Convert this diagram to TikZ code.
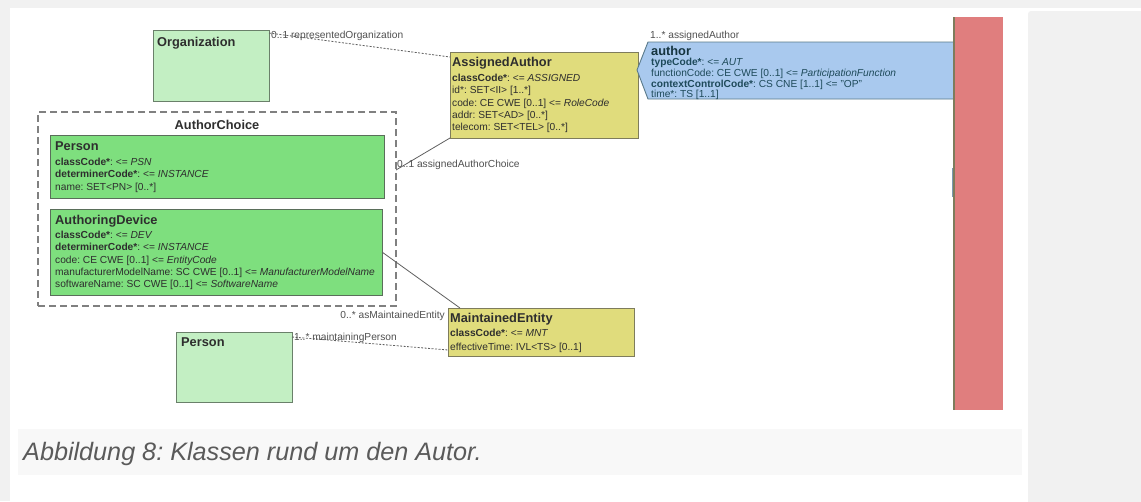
\documentclass[tikz,border=0pt]{standalone}
\usepackage{fontspec}
\setmainfont{Liberation Sans}
\frenchspacing
\definecolor{pagegray}{HTML}{F1F1F1}
\definecolor{capbg}{HTML}{F8F8F8}
\definecolor{yfill}{HTML}{E0DC7C}
\definecolor{yline}{HTML}{7E7C5C}
\definecolor{gfill}{HTML}{7EDF7E}
\definecolor{gline}{HTML}{5A6E5A}
\definecolor{lgfill}{HTML}{C3EFC3}
\definecolor{lgline}{HTML}{6A806A}
\definecolor{bfill}{HTML}{A9C9EE}
\definecolor{bline}{HTML}{5A7A8A}
\definecolor{rfill}{HTML}{E07E7E}
\definecolor{txt}{HTML}{2E2E2E}
\definecolor{btxt}{HTML}{1E4A5A}
\definecolor{lbltxt}{HTML}{505050}
\definecolor{captxt}{HTML}{5A5A5A}
\definecolor{conn}{HTML}{606060}
\begin{document}
\begin{tikzpicture}[x=1pt,y=-1pt,
  box/.style={draw, line width=0.9pt, anchor=north west, inner sep=0pt, outer sep=0pt},
  ybox/.style={box, fill=yfill, draw=yline},
  gbox/.style={box, fill=gfill, draw=gline},
  lgbox/.style={box, fill=lgfill, draw=lgline},
  ttl/.style={anchor=base west, inner sep=0pt, font=\fontsize{12.8}{14}\selectfont\bfseries, text=txt},
  attr/.style={anchor=base west, inner sep=0pt, font=\fontsize{10.2}{12}\selectfont, text=txt},
  battr/.style={attr, text=btxt},
  lbl/.style={inner sep=0pt, font=\fontsize{10.2}{12}\selectfont, text=lbltxt},
  assoc/.style={draw=conn, line width=0.8pt},
  dassoc/.style={assoc, dash pattern=on 2pt off 1.5pt}
]
% background and panels
\useasboundingbox (0,0) rectangle (1141,501);
\fill[pagegray] (0,0) rectangle (1141,501);
\fill[white] (10,8) rectangle (1141,501);
\fill[pagegray, rounded corners=3pt] (1028,11) rectangle (1150,510);
\fill[capbg] (18,429) rectangle (1022,475);
\node[anchor=base west, inner sep=0pt, font=\fontsize{25.2}{28}\selectfont\itshape, text=captxt] (caption) at (23,460) {Abbildung 8: Klassen rund um den Autor.};

% boxes
\node[lgbox, minimum width=116pt, minimum height=71pt] (org) at (153,30) {};
\node[box, draw=gray, fill=none, dash pattern=on 7pt off 4pt, line width=1.2pt, minimum width=358pt, minimum height=194pt] (ac) at (38,112) {};
\node[gbox, minimum width=334pt, minimum height=63pt] (per) at (50,135) {};
\node[gbox, minimum width=332pt, minimum height=86pt] (dev) at (50,209) {};
\node[ybox, minimum width=188pt, minimum height=86pt] (aa) at (450,52) {};
\node[ybox, minimum width=186pt, minimum height=48pt] (me) at (448,308) {};
\node[lgbox, minimum width=116pt, minimum height=70pt] (per2) at (176,332) {};

% author participation (arrow-like shape)
\filldraw[fill=bfill, draw=bline, line width=0.9pt] (956,42) -- (648,42) -- (637,70) -- (648,99) -- (956,99);
\coordinate (authtip) at (637,70);

% connectors
\draw[dassoc] ([yshift=-3pt]org.north east) -- ([yshift=-5pt]aa.north west);
\draw[assoc] (aa.south west) -- ([yshift=-58pt]ac.north east);
\draw[assoc] ([yshift=-43pt]dev.north east) -- ([xshift=12pt]me.north west);
\draw[dassoc] ([yshift=-5pt]per2.north east) -- ([yshift=-42pt]me.north west);

% connector labels
\node[lbl, anchor=base west] (l1) at (271,38.5) {0..1 representedOrganization};
\node[lbl, anchor=base west] (l2) at (397,167.5) {0..1 assignedAuthorChoice};
\node[lbl, anchor=base east] (l3) at (445,318.5) {0..* asMaintainedEntity};
\node[lbl, anchor=base west] (l4) at (294,340.5) {1..* maintainingPerson};
\node[lbl, anchor=base west] (l5) at (650,38.5) {1..* assignedAuthor};

% Organization
\node[ttl] (orgt) at (157,46.5) {Organization};
% AuthorChoice
\node[ttl, anchor=base] (act) at (217,129.5) {AuthorChoice};
% Person
\node[ttl] (pert) at (55,150.5) {Person};
\node[attr] (per1) at (55,165.5) {\textbf{classCode*}: <= \textit{PSN}};
\node[attr] (per2a) at (55,177.8) {\textbf{determinerCode*}: <= \textit{INSTANCE}};
\node[attr] (per3) at (55,190.3) {name: SET<PN> [0..*]};
% AuthoringDevice
\node[ttl] (devt) at (55,224.5) {AuthoringDevice};
\node[attr] (dev1) at (55,238.5) {\textbf{classCode*}: <= \textit{DEV}};
\node[attr] (dev2) at (55,250.7) {\textbf{determinerCode*}: <= \textit{INSTANCE}};
\node[attr] (dev3) at (55,263) {code: CE CWE [0..1] <= \textit{EntityCode}};
\node[attr] (dev4) at (55,275.2) {manufacturerModelName: SC CWE [0..1] <= \textit{ManufacturerModelName}};
\node[attr] (dev5) at (55,287.5) {softwareName: SC CWE [0..1] <= \textit{SoftwareName}};
% AssignedAuthor
\node[ttl] (aat) at (452,66.5) {AssignedAuthor};
\node[attr] (aa1) at (452,81.5) {\textbf{classCode*}: <= \textit{ASSIGNED}};
\node[attr] (aa2) at (452,93.7) {id*: SET<II> [1..*]};
\node[attr] (aa3) at (452,106) {code: CE CWE [0..1] <= \textit{RoleCode}};
\node[attr] (aa4) at (452,118.2) {addr: SET<AD> [0..*]};
\node[attr] (aa5) at (452,130.5) {telecom: SET<TEL> [0..*]};
% author
\node[ttl, text=btxt!70!black] (aut) at (651,55.5) {author};
\node[battr] (au1) at (651,65.8) {\textbf{typeCode*}: <= \textit{AUT}};
\node[battr] (au2) at (651,76.5) {functionCode: CE CWE [0..1] <= \textit{ParticipationFunction}};
\node[battr] (au3) at (651,87) {\textbf{contextControlCode*}: CS CNE [1..1] <= "OP"};
\node[battr] (au4) at (651,97.5) {time*: TS [1..1]};
% MaintainedEntity
\node[ttl] (met) at (450,322.8) {MaintainedEntity};
\node[attr] (me1) at (450,336.5) {\textbf{classCode*}: <= \textit{MNT}};
\node[attr] (me2) at (450,350) {effectiveTime: IVL<TS> [0..1]};
% Person (maintaining)
\node[ttl] (per2t) at (181,346.5) {Person};

% red bar on the right
\fill[rfill] (953,17) rectangle (1003,410);
\fill[yline] (953,17) rectangle (954.6,410);
\fill[bline!60!bfill] (951.5,168) rectangle (953.2,197);
\end{tikzpicture}
\end{document}
